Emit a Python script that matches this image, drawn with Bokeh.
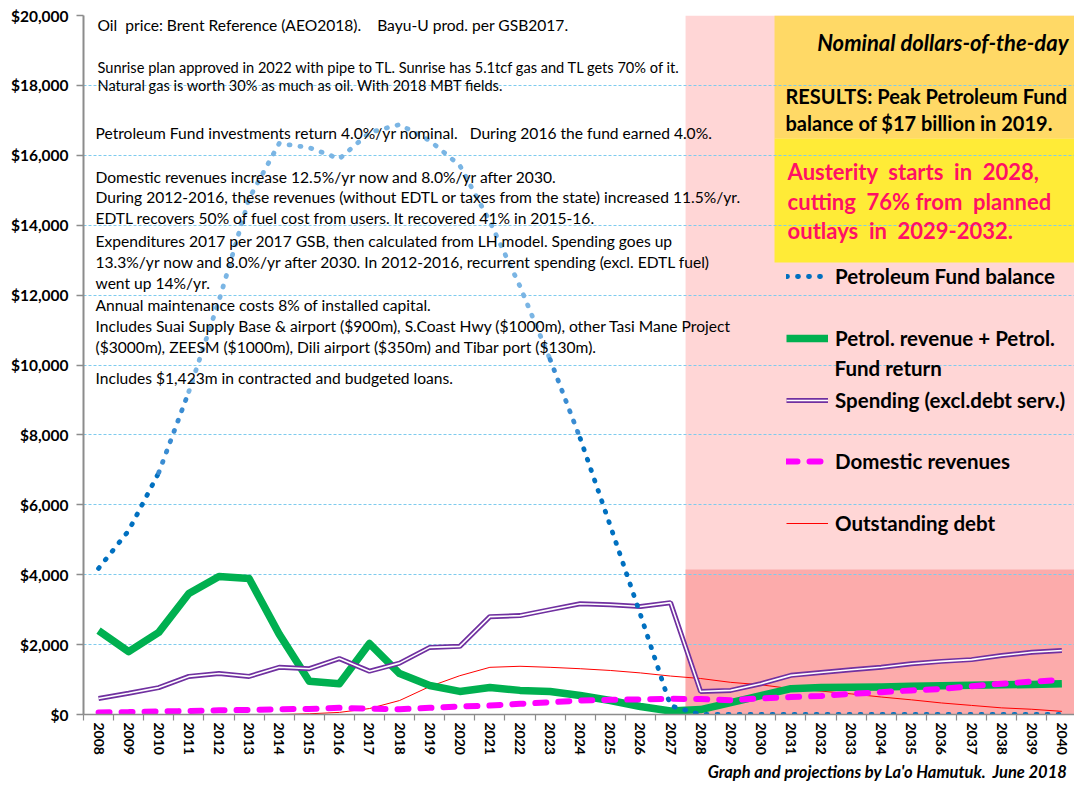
from bokeh.plotting import figure
from bokeh.models import (FixedTicker, NumeralTickFormatter, BoxAnnotation, Label,
                          Legend, LegendItem, ColumnDataSource, Title)
from bokeh.embed import file_html
from bokeh.resources import INLINE

# ---------------- data (US$ million, nominal) ----------------
years = list(range(2008, 2041))
pf_balance = [4180, 5260, 6920, 9240, 11840, 14760, 16340, 16220, 15900, 16650,
              16880, 16420, 15710, 14100, 12250, 10160, 7900, 5400, 2860, 250,
              0, 0, 0, 0, 0, 0, 0, 0, 0, 0, 0, 0, 0]
petrol_revenue = [2400, 1800, 2350, 3460, 3950, 3890, 2300, 950, 880, 2030,
                  1170, 830, 660, 770, 690, 660, 545, 400, 230, 100,
                  140, 340, 540, 740, 770, 780, 790, 810, 820, 840, 850, 860, 880]
spending = [460, 610, 770, 1090, 1175, 1090, 1350, 1310, 1600, 1240,
            1470, 1920, 1950, 2800, 2830, 3000, 3170, 3140, 3090, 3200,
            660, 690, 880, 1120, 1200, 1280, 1350, 1450, 1520, 1570, 1690, 1780, 1830]
domestic_revenue = [60, 70, 90, 100, 120, 130, 150, 160, 190, 165,
                    150, 190, 230, 255, 305, 350, 400, 420, 430, 450,
                    440, 410, 460, 500, 530, 590, 640, 690, 730, 810, 880, 940, 990]
outstanding_debt = [0, 0, 0, 0, 0, 0, 0, 20, 60, 170,
                    400, 800, 1110, 1350, 1380, 1350, 1310, 1260, 1190, 1100,
                    1030, 920, 850, 740, 670, 590, 500, 420, 330, 260, 190, 150, 90]
y_ticks = list(range(0, 20001, 2000))
austerity_start = 2028
dark_zone_top = 4150

NB = "\u00a0"
notes = [
    "Oil" + NB + " price: Brent Reference (AEO2018)." + NB * 3 + " Bayu-U prod. per GSB2017.",
    "Sunrise plan approved in 2022 with pipe to TL. Sunrise has 5.1tcf gas and TL gets 70% of it.",
    "Natural gas is worth 30% as much as oil. With 2018 MBT fields.",
    "Petroleum Fund investments return 4.0%/yr nominal." + NB * 2 + " During 2016 the fund earned 4.0%.",
    "Domestic revenues increase 12.5%/yr now and 8.0%/yr after 2030.",
    "During 2012-2016, these revenues (without EDTL or taxes from the state) increased 11.5%/yr.",
    "EDTL recovers 50% of fuel cost from users. It recovered 41% in 2015-16.",
    "Expenditures 2017 per 2017 GSB, then calculated from LH model. Spending goes up",
    "13.3%/yr now and 8.0%/yr after 2030. In 2012-2016, recurrent spending (excl. EDTL fuel)",
    "went up 14%/yr.",
    "Annual maintenance costs 8% of installed capital.",
    "Includes Suai Supply Base & airport ($900m), S.Coast Hwy ($1000m), other Tasi Mane Project",
    "($3000m), ZEESM ($1000m), Dili airport ($350m) and Tibar port ($130m).",
    "Includes $1,423m in contracted and budgeted loans.",
]
note_y = [19714, 18512, 17997, 16624, 15393, 14821, 14220, 13534, 12933, 12332,
          11731, 11102, 10529, 9642]
note_size = ["15.6px", "14.6px", "14.6px"] + ["15.6px"] * 11
note_dx = [14, 14, 14] + [12] * 11

FONT = "Lato"

p = figure(width=1074, height=789, output_backend="svg", toolbar_location=None,
           x_range=(2007.5, 2040.42), y_range=(0, 20000),
           min_border_left=83, min_border_right=0, min_border_top=15, min_border_bottom=75)
p.outline_line_color = None
p.background_fill_color = "white"
p.border_fill_color = "white"

# ---------------- shaded zones ----------------
p.add_layout(BoxAnnotation(left=austerity_start - 0.5, fill_color="#FFD6D6", fill_alpha=1,
                           line_color=None, level="image"))
p.add_layout(BoxAnnotation(left=austerity_start - 0.5, top=dark_zone_top, fill_color="#FCABAB",
                           fill_alpha=1, line_color=None, level="image"))
p.add_layout(BoxAnnotation(left=2030.455, bottom=16481, fill_color="#FFD966", fill_alpha=1,
                           line_color=None, level="image"))
p.add_layout(BoxAnnotation(left=2030.455, bottom=12933, top=16481, fill_color="#FFEB37",
                           fill_alpha=1, line_color=None, level="image"))

# ---------------- axes / grid ----------------
p.xgrid.visible = False
p.ygrid.ticker = FixedTicker(ticks=y_ticks[1:])
p.ygrid.grid_line_color = "#7DCBEE"
p.ygrid.grid_line_dash = "3 2"
p.ygrid.grid_line_width = 1

ya = p.yaxis[0]
ya.ticker = FixedTicker(ticks=y_ticks)
ya.formatter = NumeralTickFormatter(format="$0,0")
ya.axis_line_color = "#8C8C8C"
ya.axis_line_width = 2
ya.major_tick_line_color = "#8C8C8C"
ya.major_tick_line_width = 1.5
ya.major_tick_out = 7
ya.major_tick_in = 0
ya.minor_tick_line_color = None
ya.major_label_text_font = FONT
ya.major_label_text_font_style = "bold"
ya.major_label_text_font_size = "15.5px"
ya.major_label_text_color = "black"
ya.major_label_standoff = 8

xa = p.xaxis[0]
xa.ticker = FixedTicker(ticks=years, minor_ticks=[y - 0.5 for y in years] + [years[-1] + 0.5])
xa.axis_line_color = "#8C8C8C"
xa.axis_line_width = 1.5
xa.major_tick_line_color = None
xa.major_tick_out = 6
xa.major_tick_in = 0
xa.minor_tick_line_color = "#8C8C8C"
xa.minor_tick_line_width = 1.2
xa.minor_tick_out = 6
xa.minor_tick_in = 0
xa.major_label_orientation = "vertical"
xa.major_label_text_font = FONT
xa.major_label_text_font_style = "bold"
xa.major_label_text_font_size = "14px"
xa.major_label_text_color = "black"
xa.major_label_standoff = 2

# ---------------- series ----------------
src = ColumnDataSource(dict(year=years, pf=pf_balance, rev=petrol_revenue, spend=spending,
                            dom=domestic_revenue, debt=outstanding_debt))

r_debt = p.line("year", "debt", source=src, line_color="#FF0000", line_width=1)
r_rev = p.line("year", "rev", source=src, line_color="#00B050", line_width=7.5,
               line_join="round")
r_sp = p.line("year", "spend", source=src, line_color="#7030A0", line_width=5)
r_sp_in = p.line("year", "spend", source=src, line_color="white", line_width=1.6)
r_dom = p.line("year", "dom", source=src, line_color="#FF00FF", line_width=6,
               line_dash="11 12", line_cap="round")

# Petroleum Fund balance drawn as dotted line with colour shading like the original
def seg(i0, i1, color):
    s = ColumnDataSource(dict(year=years[i0:i1 + 1], pf=pf_balance[i0:i1 + 1]))
    return p.line("year", "pf", source=s, line_color=color, line_width=4.8,
                  line_dash="1 10", line_cap="round")

r_pf = seg(0, 2, "#0070C0")
seg(2, 3, "#3A8CD2")
seg(3, 15, "#7AB5E4")
seg(15, 16, "#3A8CD2")
seg(16, len(years) - 1, "#0070C0")

# ---------------- legends ----------------
LEG_SIZE = "20.5px"

def add_legend(label, renderers, x, y):
    lg = Legend(items=[LegendItem(label=label, renderers=renderers)], location=(x, y),
                orientation="vertical", padding=0, margin=0, spacing=0,
                glyph_width=42, glyph_height=20, label_height=20, label_standoff=7,
                label_text_font=FONT, label_text_font_style="bold",
                label_text_font_size=LEG_SIZE, label_text_color="black",
                background_fill_alpha=0, border_line_alpha=0)
    p.add_layout(lg, "center")

add_legend("Petroleum Fund balance", [r_pf], 703, 426)
add_legend("Petrol. revenue + Petrol.", [r_rev], 703, 364)
add_legend("Spending (excl.debt serv.)", [r_sp, r_sp_in], 703, 302)
add_legend("Domestic revenues", [r_dom], 703, 241)
add_legend("Outstanding debt", [r_debt], 703, 179)
p.add_layout(Label(x=2032.45, y=9900, text="Fund return", text_font=FONT,
                   text_font_style="bold", text_font_size=LEG_SIZE, text_color="black",
                   text_baseline="middle"))

# ---------------- notes ----------------
for t, yv, fs, dx in zip(notes, note_y, note_size, note_dx):
    p.add_layout(Label(x=2007.5, y=yv, x_offset=dx, text=t, text_font=FONT,
                       text_font_size=fs, text_color="black", text_baseline="middle"))

p.add_layout(Label(x=2040.22, y=19228, text="Nominal dollars-of-the-day", text_font=FONT,
                   text_font_style="bold italic", text_font_size="22px", text_color="black",
                   text_align="right", text_baseline="middle"))
for t, yv in [("RESULTS: Peak Petroleum Fund", 17711),
              ("balance of $17 billion in 2019.", 16910)]:
    p.add_layout(Label(x=2030.82, y=yv, text=t, text_font=FONT, text_font_style="bold",
                       text_font_size="20px", text_color="black", text_baseline="middle"))
for t, yv in [("Austerity" + NB + " starts" + NB + " in" + NB + " 2028,", 15537),
              ("cutting" + NB + " 76% from" + NB + " planned", 14678),
              ("outlays" + NB + " in" + NB + " 2029-2032.", 13848)]:
    p.add_layout(Label(x=2030.89, y=yv, text=t, text_font=FONT, text_font_style="bold",
                       text_font_size="22px", text_color="#FF1065", text_baseline="middle"))

p.add_layout(Title(text="Graph and projections by La'o Hamutuk." + NB + " June 2018",
                   align="right", offset=7, standoff=4, text_font=FONT,
                   text_font_style="bold italic", text_font_size="16.5px",
                   text_color="black"), "below")

open("out.html", "w").write(file_html(p, INLINE))
